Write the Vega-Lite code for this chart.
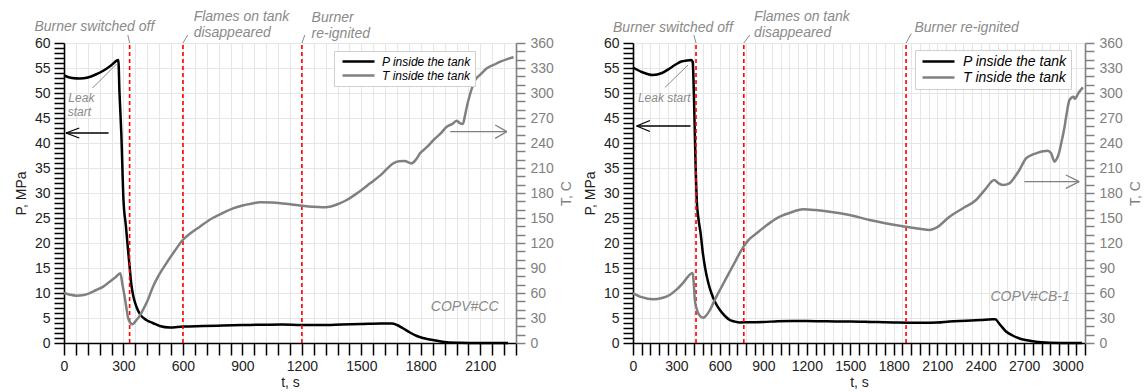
{
  "$schema": "https://vega.github.io/schema/vega-lite/v6.json",
  "padding": {"left": 14, "top": 10, "right": 0, "bottom": 0},
  "background": "white",
  "config": {
    "view": {"stroke": null},
    "font": "Liberation Sans",
    "axis": {
      "labelFont": "Liberation Sans", "labelFontSize": 14, "labelColor": "#222222",
      "titleFont": "Liberation Sans", "titleFontSize": 14, "titleFontWeight": "normal", "titleColor": "#222222",
      "domainColor": "#000000", "domainWidth": 1.6, "tickColor": "#000000", "tickWidth": 1.5,
      "gridColor": "#e6e6e6", "gridWidth": 1, "labelOverlap": false, "labelFlush": false, "tickCount": 200
    },
    "legend": {"labelFont": "Liberation Sans"}
  },
  "datasets": {
    "leftP": [
      {"t": 0, "P": 53.5}, {"t": 40, "P": 53.0}, {"t": 80, "P": 52.9}, {"t": 120, "P": 53.1}, {"t": 160, "P": 53.7},
      {"t": 200, "P": 54.5}, {"t": 240, "P": 55.6}, {"t": 274, "P": 56.6}, {"t": 280, "P": 50}, {"t": 289, "P": 42},
      {"t": 300, "P": 28.6}, {"t": 312, "P": 23.5}, {"t": 323, "P": 18.6}, {"t": 331, "P": 15.3}, {"t": 339, "P": 11.9},
      {"t": 350, "P": 9.3}, {"t": 365, "P": 7.3}, {"t": 381, "P": 5.9}, {"t": 415, "P": 4.6}, {"t": 448, "P": 4.0},
      {"t": 483, "P": 3.4}, {"t": 533, "P": 3.1}, {"t": 600, "P": 3.3}, {"t": 700, "P": 3.4}, {"t": 800, "P": 3.5},
      {"t": 900, "P": 3.6}, {"t": 1000, "P": 3.65}, {"t": 1100, "P": 3.7}, {"t": 1200, "P": 3.6}, {"t": 1300, "P": 3.6},
      {"t": 1400, "P": 3.7}, {"t": 1500, "P": 3.8}, {"t": 1600, "P": 3.9}, {"t": 1653, "P": 3.9}, {"t": 1680, "P": 3.6},
      {"t": 1712, "P": 2.9}, {"t": 1745, "P": 2.1}, {"t": 1780, "P": 1.4}, {"t": 1810, "P": 1.0}, {"t": 1847, "P": 0.7},
      {"t": 1890, "P": 0.4}, {"t": 1931, "P": 0.15}, {"t": 2000, "P": 0.05}, {"t": 2100, "P": 0}, {"t": 2240, "P": 0}
    ],
    "leftT": [
      {"t": 0, "T": 60}, {"t": 30, "T": 58}, {"t": 62, "T": 56.8}, {"t": 100, "T": 57.5}, {"t": 163, "T": 63.6},
      {"t": 200, "T": 68}, {"t": 230, "T": 73.6}, {"t": 260, "T": 79}, {"t": 284, "T": 83.6}, {"t": 295, "T": 70},
      {"t": 306, "T": 55.6}, {"t": 315, "T": 42}, {"t": 322, "T": 31.6}, {"t": 335, "T": 24}, {"t": 345, "T": 22.4},
      {"t": 360, "T": 26}, {"t": 380, "T": 32}, {"t": 398, "T": 39.6}, {"t": 420, "T": 50}, {"t": 449, "T": 67.6},
      {"t": 480, "T": 82}, {"t": 516, "T": 95.6}, {"t": 560, "T": 111}, {"t": 599, "T": 123.6}, {"t": 640, "T": 132},
      {"t": 685, "T": 139.6}, {"t": 750, "T": 150}, {"t": 800, "T": 156}, {"t": 853, "T": 161.6}, {"t": 900, "T": 165},
      {"t": 950, "T": 167.5}, {"t": 988, "T": 169}, {"t": 1050, "T": 168.5}, {"t": 1100, "T": 167.5}, {"t": 1150, "T": 166.3},
      {"t": 1190, "T": 165}, {"t": 1250, "T": 163.5}, {"t": 1300, "T": 162.8}, {"t": 1340, "T": 163.5}, {"t": 1380, "T": 166.5},
      {"t": 1426, "T": 171.6}, {"t": 1480, "T": 180}, {"t": 1544, "T": 191.6}, {"t": 1600, "T": 202}, {"t": 1661, "T": 215.6},
      {"t": 1690, "T": 218}, {"t": 1720, "T": 218.4}, {"t": 1740, "T": 216.5}, {"t": 1754, "T": 215.6}, {"t": 1775, "T": 220},
      {"t": 1796, "T": 227.6}, {"t": 1830, "T": 235}, {"t": 1864, "T": 243.6}, {"t": 1900, "T": 251.5}, {"t": 1931, "T": 259.6},
      {"t": 1960, "T": 263}, {"t": 1982, "T": 266.8}, {"t": 1995, "T": 264}, {"t": 2012, "T": 262.8}, {"t": 2022, "T": 272},
      {"t": 2032, "T": 283.6}, {"t": 2050, "T": 300}, {"t": 2074, "T": 315.6}, {"t": 2100, "T": 322}, {"t": 2133, "T": 329.6},
      {"t": 2170, "T": 334}, {"t": 2201, "T": 337.6}, {"t": 2240, "T": 341}, {"t": 2268, "T": 342.8}
    ],
    "leftEv": [{"t": 331}, {"t": 600}, {"t": 1200}],
    "leftSeg": [
      {"t": 322, "P": 61.6, "t2": 331, "P2": 60}, {"t": 624, "P": 61.6, "t2": 600, "P2": 60},
      {"t": 1215, "P": 61.6, "t2": 1200, "P2": 60}, {"t": 144, "P": 51, "t2": 265, "P2": 55.8}
    ],
    "leftArrP": [
      {"t": 10, "P": 42, "t2": 225, "P2": 42}, {"t": 10, "P": 42, "t2": 77, "P2": 43}, {"t": 10, "P": 42, "t2": 77, "P2": 41}
    ],
    "leftArrT": [
      {"t": 1948, "T": 253.6, "t2": 2234, "T2": 253.6}, {"t": 2234, "T": 253.6, "t2": 2175, "T2": 261.6}, {"t": 2234, "T": 253.6, "t2": 2175, "T2": 245.6}
    ],
    "leftText": [
      {"kind": "event", "t": -149, "P": 63.2, "txt": "Burner switched off"},
      {"kind": "event", "t": 654, "P": 65.2, "txt": "Flames on tank"},
      {"kind": "event", "t": 654, "P": 62, "txt": "disappeared"},
      {"kind": "event", "t": 1249, "P": 65, "txt": "Burner"},
      {"kind": "event", "t": 1249, "P": 61.8, "txt": "re-ignited"},
      {"kind": "leak", "t": 22, "P": 49, "txt": "Leak"},
      {"kind": "leak", "t": 19, "P": 46.2, "txt": "start"},
      {"kind": "label", "t": 2192, "P": 7.3, "txt": "COPV#CC"}
    ],
    "rightP": [
      {"t": 0, "P": 55.1}, {"t": 60, "P": 54.2}, {"t": 138, "P": 53.6}, {"t": 200, "P": 54.0}, {"t": 253, "P": 54.9},
      {"t": 300, "P": 55.8}, {"t": 334, "P": 56.3}, {"t": 370, "P": 56.5}, {"t": 403, "P": 56.6}, {"t": 412, "P": 56.2},
      {"t": 420, "P": 50}, {"t": 430, "P": 38}, {"t": 440, "P": 28.6}, {"t": 452, "P": 24.8}, {"t": 467, "P": 21.9},
      {"t": 480, "P": 18.5}, {"t": 496, "P": 15.3}, {"t": 520, "P": 12}, {"t": 542, "P": 9.9}, {"t": 570, "P": 8},
      {"t": 600, "P": 6.6}, {"t": 635, "P": 5.4}, {"t": 668, "P": 4.6}, {"t": 700, "P": 4.3}, {"t": 737, "P": 4.1},
      {"t": 800, "P": 4.15}, {"t": 900, "P": 4.2}, {"t": 1000, "P": 4.35}, {"t": 1100, "P": 4.4}, {"t": 1200, "P": 4.4},
      {"t": 1300, "P": 4.35}, {"t": 1400, "P": 4.3}, {"t": 1500, "P": 4.3}, {"t": 1650, "P": 4.2}, {"t": 1800, "P": 4.1},
      {"t": 1900, "P": 4.05}, {"t": 2000, "P": 4.05}, {"t": 2100, "P": 4.1}, {"t": 2185, "P": 4.3}, {"t": 2300, "P": 4.45},
      {"t": 2400, "P": 4.6}, {"t": 2483, "P": 4.75}, {"t": 2500, "P": 4.75}, {"t": 2530, "P": 3.8}, {"t": 2575, "P": 2.3},
      {"t": 2620, "P": 1.5}, {"t": 2667, "P": 0.9}, {"t": 2720, "P": 0.55}, {"t": 2782, "P": 0.27}, {"t": 2850, "P": 0.1},
      {"t": 2960, "P": 0.02}, {"t": 3100, "P": 0}
    ],
    "rightT": [
      {"t": 0, "T": 59.6}, {"t": 60, "T": 55}, {"t": 138, "T": 52.4}, {"t": 200, "T": 54}, {"t": 253, "T": 57.6},
      {"t": 300, "T": 64}, {"t": 350, "T": 73}, {"t": 403, "T": 83.6}, {"t": 412, "T": 84}, {"t": 420, "T": 70},
      {"t": 427, "T": 51.6}, {"t": 438, "T": 42}, {"t": 450, "T": 35.6}, {"t": 465, "T": 32}, {"t": 485, "T": 30.4},
      {"t": 505, "T": 33}, {"t": 531, "T": 39.6}, {"t": 565, "T": 52}, {"t": 600, "T": 63.6}, {"t": 650, "T": 80},
      {"t": 700, "T": 96}, {"t": 763, "T": 115.6}, {"t": 800, "T": 124}, {"t": 853, "T": 131.6}, {"t": 920, "T": 141},
      {"t": 991, "T": 149.6}, {"t": 1080, "T": 156}, {"t": 1174, "T": 160.4}, {"t": 1260, "T": 159.5}, {"t": 1358, "T": 157.6},
      {"t": 1495, "T": 153.6}, {"t": 1633, "T": 147.6}, {"t": 1750, "T": 143.5}, {"t": 1881, "T": 139.6}, {"t": 1980, "T": 137},
      {"t": 2047, "T": 135.6}, {"t": 2100, "T": 139}, {"t": 2185, "T": 151.6}, {"t": 2280, "T": 162}, {"t": 2368, "T": 171.6},
      {"t": 2430, "T": 184}, {"t": 2494, "T": 195.6}, {"t": 2520, "T": 192}, {"t": 2552, "T": 189.6}, {"t": 2598, "T": 191.6},
      {"t": 2630, "T": 198}, {"t": 2667, "T": 207.6}, {"t": 2713, "T": 221.6}, {"t": 2750, "T": 225.5}, {"t": 2782, "T": 227.6},
      {"t": 2830, "T": 230}, {"t": 2862, "T": 230.8}, {"t": 2885, "T": 228}, {"t": 2910, "T": 217.6}, {"t": 2925, "T": 221},
      {"t": 2940, "T": 227.6}, {"t": 2960, "T": 243}, {"t": 2979, "T": 259.6}, {"t": 2995, "T": 277}, {"t": 3013, "T": 291.6},
      {"t": 3041, "T": 295.6}, {"t": 3050, "T": 293}, {"t": 3075, "T": 300}, {"t": 3105, "T": 306.8}
    ],
    "rightEv": [{"t": 435}, {"t": 765}, {"t": 1885}],
    "rightSeg": [
      {"t": 420, "P": 61.6, "t2": 435, "P2": 60}, {"t": 806, "P": 61.6, "t2": 765, "P2": 60},
      {"t": 1921, "P": 61.9, "t2": 1885, "P2": 60}, {"t": 220, "P": 51.1, "t2": 380, "P2": 55.6}
    ],
    "rightArrP": [
      {"t": 25, "P": 43.4, "t2": 397, "P2": 43.4}, {"t": 25, "P": 43.4, "t2": 117, "P2": 44.5}, {"t": 25, "P": 43.4, "t2": 117, "P2": 42.3}
    ],
    "rightArrT": [
      {"t": 2701, "T": 193.6, "t2": 3080, "T2": 193.6}, {"t": 3080, "T": 193.6, "t2": 2988, "T2": 201.6}, {"t": 3080, "T": 193.6, "t2": 2988, "T2": 185.6}
    ],
    "rightText": [
      {"kind": "event", "t": -138, "P": 63, "txt": "Burner switched off"},
      {"kind": "event", "t": 836, "P": 65.2, "txt": "Flames on tank"},
      {"kind": "event", "t": 836, "P": 62, "txt": "disappeared"},
      {"kind": "event", "t": 1943, "P": 63.1, "txt": "Burner re-ignited"},
      {"kind": "leak", "t": 34, "P": 49, "txt": "Leak start"},
      {"kind": "label", "t": 3015, "P": 9.3, "txt": "COPV#CB-1"}
    ]
  },
  "spacing": 117,
  "bounds": "flush",
  "resolve": {"scale": {"color": "independent"}, "legend": {"color": "independent"}},
  "hconcat": [
    {
      "width": 452, "height": 300,
      "resolve": {"scale": {"y": "independent"}},
      "layer": [
        {
          "layer": [
            {
              "data": {"name": "leftP"},
              "mark": {"type": "line", "strokeWidth": 2.5, "interpolate": "monotone"},
              "encoding": {
                "x": {"field": "t", "type": "quantitative",
                  "scale": {"domain": [0, 2280], "nice": false, "zero": false},
                  "axis": {"title": "t, s", "format": "d", "grid": true, "labelOverlap": false, "tickCount": 200,
                    "values": [0,60,120,180,240,300,360,420,480,540,600,660,720,780,840,900,960,1020,1080,1140,1200,1260,1320,1380,1440,1500,1560,1620,1680,1740,1800,1860,1920,1980,2040,2100,2160,2220,2280],
                    "labelExpr": "datum.value % 300 === 0 ? datum.label : ''",
                    "tickSize": 12,
                    "encode": {"ticks": {"update": {"y2": {"signal": "datum.value % 300 === 0 ? 12 : 7"}}}},
                    "labelPadding": 4, "titlePadding": 2}},
                "y": {"field": "P", "type": "quantitative",
                  "scale": {"domain": [0, 60], "nice": false, "zero": false},
                  "axis": {"orient": "left", "title": "P, MPa", "format": "d", "grid": true, "labelOverlap": false, "tickCount": 200,
                    "values": [0,1,2,3,4,5,6,7,8,9,10,11,12,13,14,15,16,17,18,19,20,21,22,23,24,25,26,27,28,29,30,31,32,33,34,35,36,37,38,39,40,41,42,43,44,45,46,47,48,49,50,51,52,53,54,55,56,57,58,59,60],
                    "labelExpr": "datum.value % 5 === 0 ? datum.label : ''",
                    "tickSize": 10,
                    "gridOpacity": {"condition": {"test": "datum.value % 5 === 0", "value": 1}, "value": 0},
                    "encode": {"ticks": {"update": {"x2": {"signal": "datum.value % 5 === 0 ? -10 : -6"}}}},
                    "labelPadding": 4, "titlePadding": 6}},
                "color": {"datum": "P inside the tank", "type": "nominal",
                  "scale": {"domain": ["P inside the tank", "T inside the tank"], "range": ["#000000", "#808080"]},
                  "legend": {"title": null, "orient": "none", "legendX": 270, "legendY": 8,
                    "symbolType": "M-3.2,0H3.2", "symbolSize": 100, "symbolStrokeWidth": 2.5, "symbolOffset": 14,
                    "labelOffset": 17, "labelFontSize": 12, "labelFontStyle": "italic", "labelColor": "#000000",
                    "strokeColor": "#d0d0d0", "fillColor": "#ffffff", "padding": 4, "rowPadding": 1}}
              }
            },
            {
              "data": {"name": "leftEv"},
              "mark": {"type": "rule", "color": "#ff0000", "strokeDash": [4, 3], "strokeWidth": 1.6},
              "encoding": {"x": {"field": "t", "type": "quantitative"}, "y": {"datum": 0}, "y2": {"datum": 60}}
            },
            {
              "data": {"name": "leftSeg"},
              "mark": {"type": "rule", "color": "#8a8a8a", "strokeWidth": 1},
              "encoding": {"x": {"field": "t", "type": "quantitative"}, "y": {"field": "P", "type": "quantitative"},
                "x2": {"field": "t2"}, "y2": {"field": "P2"}}
            },
            {
              "data": {"name": "leftArrP"},
              "mark": {"type": "rule", "color": "#000000", "strokeWidth": 1.3},
              "encoding": {"x": {"field": "t", "type": "quantitative"}, "y": {"field": "P", "type": "quantitative"},
                "x2": {"field": "t2"}, "y2": {"field": "P2"}}
            },
            {
              "data": {"name": "leftText"},
              "transform": [{"filter": "datum.kind === 'event'"}],
              "mark": {"type": "text", "align": "left", "baseline": "middle", "fontSize": 14, "fontStyle": "italic", "color": "#8a8a8a"},
              "encoding": {"x": {"field": "t", "type": "quantitative"}, "y": {"field": "P", "type": "quantitative"}, "text": {"field": "txt"}}
            },
            {
              "data": {"name": "leftText"},
              "transform": [{"filter": "datum.kind === 'leak'"}],
              "mark": {"type": "text", "align": "left", "baseline": "middle", "fontSize": 12, "fontStyle": "italic", "color": "#8a8a8a"},
              "encoding": {"x": {"field": "t", "type": "quantitative"}, "y": {"field": "P", "type": "quantitative"}, "text": {"field": "txt"}}
            },
            {
              "data": {"name": "leftText"},
              "transform": [{"filter": "datum.kind === 'label'"}],
              "mark": {"type": "text", "align": "right", "baseline": "middle", "fontSize": 14, "fontStyle": "italic", "color": "#8a8a8a"},
              "encoding": {"x": {"field": "t", "type": "quantitative"}, "y": {"field": "P", "type": "quantitative"}, "text": {"field": "txt"}}
            }
          ]
        },
        {
          "layer": [
            {
              "data": {"name": "leftT"},
              "mark": {"type": "line", "strokeWidth": 2.5, "interpolate": "monotone"},
              "encoding": {
                "x": {"field": "t", "type": "quantitative"},
                "y": {"field": "T", "type": "quantitative",
                  "scale": {"domain": [0, 360], "nice": false, "zero": false},
                  "axis": {"orient": "right", "title": "T, C", "titleAngle": 270, "titleBaseline": "top", "format": "d", "grid": false, "labelOverlap": false, "tickCount": 200,
                    "values": [0,10,20,30,40,50,60,70,80,90,100,110,120,130,140,150,160,170,180,190,200,210,220,230,240,250,260,270,280,290,300,310,320,330,340,350,360],
                    "labelExpr": "datum.value % 30 === 0 ? datum.label : ''",
                    "tickSize": 9,
                    "encode": {"ticks": {"update": {"x2": {"signal": "datum.value % 30 === 0 ? 9 : 5"}}}},
                    "domainColor": "#808080", "tickColor": "#808080", "labelColor": "#808080", "titleColor": "#808080",
                    "labelPadding": 5, "titlePadding": 6}},
                "color": {"datum": "T inside the tank", "type": "nominal"}
              }
            },
            {
              "data": {"name": "leftArrT"},
              "mark": {"type": "rule", "color": "#808080", "strokeWidth": 1.3},
              "encoding": {"x": {"field": "t", "type": "quantitative"}, "y": {"field": "T", "type": "quantitative"},
                "x2": {"field": "t2"}, "y2": {"field": "T2"}}
            }
          ]
        }
      ]
    },
    {
      "width": 452, "height": 300,
      "resolve": {"scale": {"y": "independent"}},
      "layer": [
        {
          "layer": [
            {
              "data": {"name": "rightP"},
              "mark": {"type": "line", "strokeWidth": 2.5, "interpolate": "monotone"},
              "encoding": {
                "x": {"field": "t", "type": "quantitative",
                  "scale": {"domain": [0, 3120], "nice": false, "zero": false},
                  "axis": {"title": "t, s", "format": "d", "grid": true, "labelOverlap": false, "tickCount": 200,
                    "values": [0,60,120,180,240,300,360,420,480,540,600,660,720,780,840,900,960,1020,1080,1140,1200,1260,1320,1380,1440,1500,1560,1620,1680,1740,1800,1860,1920,1980,2040,2100,2160,2220,2280,2340,2400,2460,2520,2580,2640,2700,2760,2820,2880,2940,3000,3060,3120],
                    "labelExpr": "datum.value % 300 === 0 ? datum.label : ''",
                    "tickSize": 12,
                    "encode": {"ticks": {"update": {"y2": {"signal": "datum.value % 300 === 0 ? 12 : 7"}}}},
                    "labelPadding": 4, "titlePadding": 2}},
                "y": {"field": "P", "type": "quantitative",
                  "scale": {"domain": [0, 60], "nice": false, "zero": false},
                  "axis": {"orient": "left", "title": "P, MPa", "format": "d", "grid": true, "labelOverlap": false, "tickCount": 200,
                    "values": [0,1,2,3,4,5,6,7,8,9,10,11,12,13,14,15,16,17,18,19,20,21,22,23,24,25,26,27,28,29,30,31,32,33,34,35,36,37,38,39,40,41,42,43,44,45,46,47,48,49,50,51,52,53,54,55,56,57,58,59,60],
                    "labelExpr": "datum.value % 5 === 0 ? datum.label : ''",
                    "tickSize": 10,
                    "gridOpacity": {"condition": {"test": "datum.value % 5 === 0", "value": 1}, "value": 0},
                    "encode": {"ticks": {"update": {"x2": {"signal": "datum.value % 5 === 0 ? -10 : -6"}}}},
                    "labelPadding": 4, "titlePadding": 6}},
                "color": {"datum": "P inside the tank", "type": "nominal",
                  "scale": {"domain": ["P inside the tank", "T inside the tank"], "range": ["#000000", "#808080"]},
                  "legend": {"title": null, "orient": "none", "legendX": 282, "legendY": 7,
                    "symbolType": "M-2.667,0H2.667", "symbolSize": 144, "symbolStrokeWidth": 2.5, "symbolOffset": 12,
                    "labelOffset": 17, "labelFontSize": 14, "labelFontStyle": "italic", "labelColor": "#000000",
                    "strokeColor": "#d0d0d0", "fillColor": "#ffffff", "padding": 4, "rowPadding": 1}}
              }
            },
            {
              "data": {"name": "rightEv"},
              "mark": {"type": "rule", "color": "#ff0000", "strokeDash": [4, 3], "strokeWidth": 1.6},
              "encoding": {"x": {"field": "t", "type": "quantitative"}, "y": {"datum": 0}, "y2": {"datum": 60}}
            },
            {
              "data": {"name": "rightSeg"},
              "mark": {"type": "rule", "color": "#8a8a8a", "strokeWidth": 1},
              "encoding": {"x": {"field": "t", "type": "quantitative"}, "y": {"field": "P", "type": "quantitative"},
                "x2": {"field": "t2"}, "y2": {"field": "P2"}}
            },
            {
              "data": {"name": "rightArrP"},
              "mark": {"type": "rule", "color": "#000000", "strokeWidth": 1.3},
              "encoding": {"x": {"field": "t", "type": "quantitative"}, "y": {"field": "P", "type": "quantitative"},
                "x2": {"field": "t2"}, "y2": {"field": "P2"}}
            },
            {
              "data": {"name": "rightText"},
              "transform": [{"filter": "datum.kind === 'event'"}],
              "mark": {"type": "text", "align": "left", "baseline": "middle", "fontSize": 14, "fontStyle": "italic", "color": "#8a8a8a"},
              "encoding": {"x": {"field": "t", "type": "quantitative"}, "y": {"field": "P", "type": "quantitative"}, "text": {"field": "txt"}}
            },
            {
              "data": {"name": "rightText"},
              "transform": [{"filter": "datum.kind === 'leak'"}],
              "mark": {"type": "text", "align": "left", "baseline": "middle", "fontSize": 12, "fontStyle": "italic", "color": "#8a8a8a"},
              "encoding": {"x": {"field": "t", "type": "quantitative"}, "y": {"field": "P", "type": "quantitative"}, "text": {"field": "txt"}}
            },
            {
              "data": {"name": "rightText"},
              "transform": [{"filter": "datum.kind === 'label'"}],
              "mark": {"type": "text", "align": "right", "baseline": "middle", "fontSize": 14, "fontStyle": "italic", "color": "#8a8a8a"},
              "encoding": {"x": {"field": "t", "type": "quantitative"}, "y": {"field": "P", "type": "quantitative"}, "text": {"field": "txt"}}
            }
          ]
        },
        {
          "layer": [
            {
              "data": {"name": "rightT"},
              "mark": {"type": "line", "strokeWidth": 2.5, "interpolate": "monotone"},
              "encoding": {
                "x": {"field": "t", "type": "quantitative"},
                "y": {"field": "T", "type": "quantitative",
                  "scale": {"domain": [0, 360], "nice": false, "zero": false},
                  "axis": {"orient": "right", "title": "T, C", "titleAngle": 270, "titleBaseline": "top", "format": "d", "grid": false, "labelOverlap": false, "tickCount": 200,
                    "values": [0,10,20,30,40,50,60,70,80,90,100,110,120,130,140,150,160,170,180,190,200,210,220,230,240,250,260,270,280,290,300,310,320,330,340,350,360],
                    "labelExpr": "datum.value % 30 === 0 ? datum.label : ''",
                    "tickSize": 9,
                    "encode": {"ticks": {"update": {"x2": {"signal": "datum.value % 30 === 0 ? 9 : 5"}}}},
                    "domainColor": "#808080", "tickColor": "#808080", "labelColor": "#808080", "titleColor": "#808080",
                    "labelPadding": 5, "titlePadding": 6}},
                "color": {"datum": "T inside the tank", "type": "nominal"}
              }
            },
            {
              "data": {"name": "rightArrT"},
              "mark": {"type": "rule", "color": "#808080", "strokeWidth": 1.3},
              "encoding": {"x": {"field": "t", "type": "quantitative"}, "y": {"field": "T", "type": "quantitative"},
                "x2": {"field": "t2"}, "y2": {"field": "T2"}}
            }
          ]
        }
      ]
    }
  ]
}
